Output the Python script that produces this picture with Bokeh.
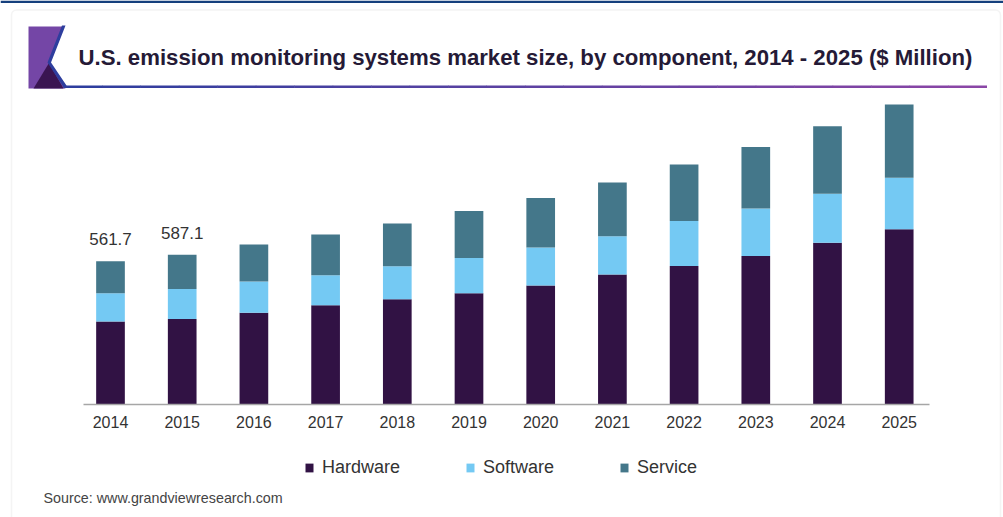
from bokeh.plotting import figure
from bokeh.models import (Range1d, FixedTicker, Label, Legend, LegendItem,
                          BoxAnnotation, PolyAnnotation, ColumnDataSource)
from bokeh.core.properties import value
from bokeh.embed import file_html
from bokeh.resources import INLINE

# ---------------- data ----------------
years = ["2014", "2015", "2016", "2017", "2018", "2019", "2020",
         "2021", "2022", "2023", "2024", "2025"]
hardware = [325.5, 335.5, 359.5, 389.0, 412.8, 436.3, 466.5, 509.6, 543.3, 582.5, 633.9, 687.2]
software = [111.0, 117.3, 122.7, 117.6, 129.4, 138.4, 149.0, 150.1, 176.4, 185.8, 192.1, 201.5]
service = [125.2, 134.3, 145.0, 159.5, 167.4, 184.2, 194.4, 210.5, 221.1, 241.5, 265.0, 287.3]
series = ["Hardware", "Software", "Service"]
labelled_years = ["2014", "2015"]

title_text = "U.S. emission monitoring systems market size, by component, 2014 - 2025 ($ Million)"
source_text = "Source: www.grandviewresearch.com"

colors = ["#311244", "#74c9f3", "#44778a"]
FONT = "Liberation Sans"

# ---------------- layout constants ----------------
W, H = 1003, 517
PX_PER_CAT = 71.7      # horizontal pixels per category
X_FIRST = 110          # canvas x of first category centre
UNITS_PER_PX = 3.92    # value units per vertical pixel
BASE_Y = 404           # canvas y of the value axis zero line


def sx(X):
    return X


def sy(Y):
    return H - Y


xs_idx = list(range(len(years)))
src = ColumnDataSource(dict(x=xs_idx, years=years, Hardware=hardware,
                            Software=software, Service=service))

x_range = Range1d(-X_FIRST / PX_PER_CAT, (W - X_FIRST) / PX_PER_CAT)
y_range = Range1d(-(H - BASE_Y) * UNITS_PER_PX, BASE_Y * UNITS_PER_PX)

p = figure(width=W, height=H, output_backend="svg", toolbar_location=None,
           x_range=x_range, y_range=y_range, y_axis_location=None,
           min_border_left=0, min_border_right=0, min_border_top=0,
           min_border_bottom=0)
p.outline_line_color = None
p.grid.visible = False
p.background_fill_color = "white"
p.border_fill_color = "white"

rs = p.vbar_stack(series, x="x", width=0.40, color=colors, source=src,
                  line_color=None)

# x axis, drawn at value zero inside the plot area
ax = p.xaxis[0]
ax.fixed_location = 0
ax.bounds = (-0.377, len(years) - 1 + 0.42)
ax.ticker = FixedTicker(ticks=xs_idx)
ax.major_label_overrides = {i: y for i, y in enumerate(years)}
ax.major_tick_line_color = None
ax.minor_tick_line_color = None
ax.major_tick_out = 0
ax.major_tick_in = 0
ax.axis_line_color = "#a6a6a6"
ax.axis_line_width = 1.5
ax.major_label_text_font = FONT
ax.major_label_text_font_size = "16px"
ax.major_label_text_color = "#333333"
ax.major_label_standoff = 11

# value labels on first two bars
lab_x = [years.index(y) for y in labelled_years]
lab_y = [hardware[i] + software[i] + service[i] for i in lab_x]
lab_src = ColumnDataSource(dict(x=lab_x, y=lab_y, t=[f"{v:.1f}" for v in lab_y]))
p.text(x="x", y="y", text="t", source=lab_src, text_align="center",
       text_baseline="bottom", y_offset=-16, text_font=value(FONT),
       text_font_size="17px", text_color="#333333")

# legend
legend = Legend(items=[LegendItem(label=s, renderers=[r]) for s, r in zip(series, rs)],
                orientation="horizontal", location=(sx(304), sy(477.5)),
                glyph_width=10, glyph_height=11, label_standoff=8, spacing=65,
                padding=0, margin=0, label_height=20,
                label_text_font=FONT, label_text_font_size="18px",
                label_text_color="#333333", border_line_color=None,
                background_fill_alpha=0)
p.add_layout(legend, "center")

# ---------------- decorations ----------------
def box(l, r, t, b, **kw):
    return BoxAnnotation(left=sx(l), right=sx(r), top=sy(t), bottom=sy(b),
                         left_units="screen", right_units="screen",
                         top_units="screen", bottom_units="screen", **kw)


p.add_layout(box(0, W, 0, 2.5, fill_color="#15407d", fill_alpha=1, line_color=None))
p.add_layout(box(11, 1000, 9.5, 540, fill_alpha=0, line_color="#d9d9d9",
                 line_width=1.5, border_radius=5))


def poly(xs, ys, color):
    return PolyAnnotation(xs=[sx(v) for v in xs], ys=[sy(v) for v in ys],
                          xs_units="screen", ys_units="screen",
                          fill_color=color, fill_alpha=1, line_color=None)


p.add_layout(poly([28, 63, 49, 65, 28], [26, 26, 62, 88, 88], "#7446a6"))
p.add_layout(poly([33, 48.5, 63], [88, 62.5, 88], "#3a1552"))
p.add_layout(poly([61.5, 65, 50.5, 66, 66, 63.5, 47],
                  [25, 25, 62, 85, 87.5, 87.5, 62], "#2e3e9e"))

# gradient underline
c0 = (0x2e, 0x3e, 0x9e)
c1 = (0x8a, 0x46, 0xa6)
n = 24
x0, x1 = 63, 986
for i in range(n):
    t = i / (n - 1)
    c = "#%02x%02x%02x" % tuple(int(a + (b - a) * t) for a, b in zip(c0, c1))
    p.add_layout(box(x0 + (x1 - x0) * i / n, x0 + (x1 - x0) * (i + 1) / n + 0.5,
                     85, 87.5, fill_color=c, fill_alpha=1, line_color=None))

# title and source
p.add_layout(Label(x=sx(78), y=sy(57), x_units="screen", y_units="screen",
                   text=title_text, text_baseline="middle",
                   text_font=FONT, text_font_size="22.2px",
                   text_font_style="bold", text_color="#251a36"))
p.add_layout(Label(x=sx(43), y=sy(497), x_units="screen", y_units="screen",
                   text=source_text, text_baseline="middle", text_font=FONT,
                   text_font_size="14.3px", text_color="#444444"))

open("out.html", "w").write(file_html(p, INLINE))
